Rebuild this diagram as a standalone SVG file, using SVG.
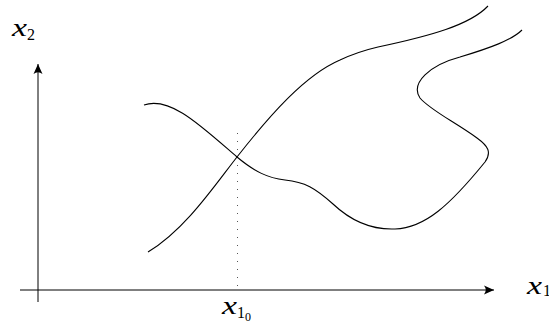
<svg xmlns="http://www.w3.org/2000/svg" width="549" height="324" viewBox="0 0 549 324">
<style>
.ax{stroke:#000;stroke-width:1;fill:none}
.cv{stroke:#000;stroke-width:1.1;fill:none}
.dot{stroke:#555;stroke-width:1;stroke-dasharray:1 7;fill:none}
.v{font-family:"Liberation Serif","Times New Roman",serif;font-style:italic;font-size:26px;fill:#000}
.s{font-family:"Liberation Serif","Times New Roman",serif;font-size:16px;fill:#000}
.ss{font-family:"Liberation Serif","Times New Roman",serif;font-size:12px;fill:#000}
</style>
<defs>
<marker id="ah" viewBox="-10 -5 11 10" refX="0" refY="0" markerWidth="11" markerHeight="10" markerUnits="userSpaceOnUse" orient="auto">
<path d="M0,0 L-10,-4.5 Q-6.5,0 -10,4.5 Z" fill="#000"/>
</marker>
</defs>
<g id="axes">
<line class="ax" x1="38" y1="302" x2="38" y2="64" marker-end="url(#ah)"/>
<line class="ax" x1="20" y1="290" x2="494" y2="290" marker-end="url(#ah)"/>
<line class="dot" x1="237.5" y1="133" x2="237.5" y2="286"/>
</g>
<g id="curves">
<path class="cv" d="M148,252 C185,230 215,185 237,157 C270,115 305,75 340,60 C355,53 365,50 378,47 C430,36 470,25 488,6"/>
<path class="cv" d="M144,105 C170,96 200,125 237,157 C255,172 268,178 285,180 C305,182 315,188 333,204 C350,220 370,230 395,229 C425,228 450,205 485,162 C492,152 488,146 477,138 C455,122 430,110 420,98 C410,83 430,65 460,57 C490,48 512,40 522,30"/>
</g>
<g id="labels">
<text class="v" x="12" y="36" textLength="15" lengthAdjust="spacingAndGlyphs">x</text><text class="s" x="27" y="40">2</text>
<text class="v" x="527" y="294" textLength="15" lengthAdjust="spacingAndGlyphs">x</text><text class="s" x="543" y="296">1</text>
<text class="v" x="222" y="314" textLength="15" lengthAdjust="spacingAndGlyphs">x</text><text class="s" x="237" y="318">1</text><text class="ss" x="245" y="321">0</text>
</g>
</svg>
